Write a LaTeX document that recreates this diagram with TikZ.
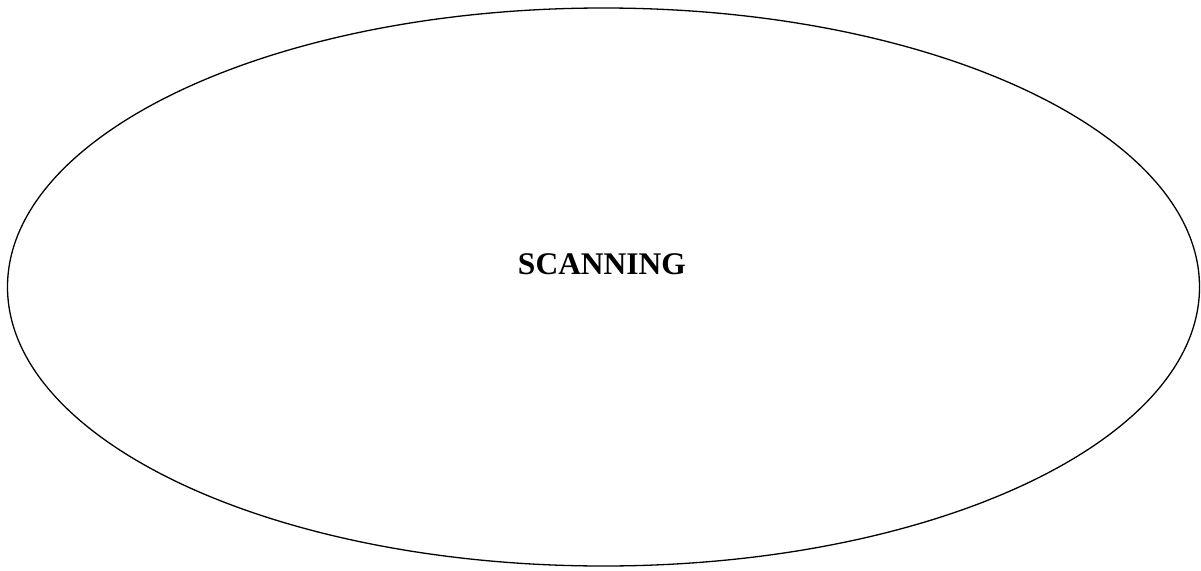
\documentclass[tikz,border=0pt]{standalone}
\usepackage{fontspec}
\setmainfont{Liberation Serif}
\usetikzlibrary{shapes.geometric}
\begin{document}
\begin{tikzpicture}[x=1pt,y=-1pt,
  bubble/.style={draw=black,line width=1.3pt,ellipse,minimum width=1192pt,minimum height=558pt,inner sep=0pt},
  lbl/.style={font=\fontsize{31.5}{36}\selectfont\bfseries,inner sep=0pt}]
\useasboundingbox (0,0) rectangle (1201,570);
\node[bubble] (e) at (603.5,287) {};
\node[lbl] (t) at (602,264) {SCANNING};
\end{tikzpicture}
\end{document}
